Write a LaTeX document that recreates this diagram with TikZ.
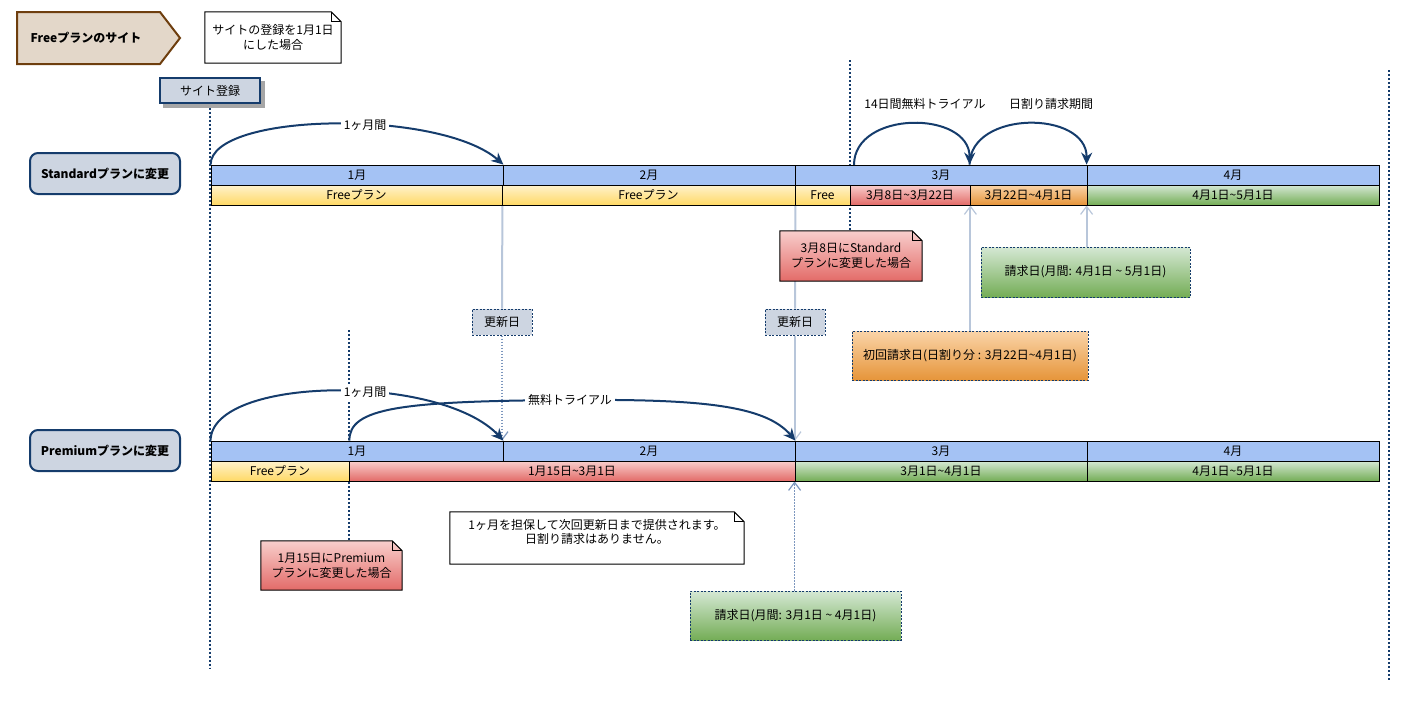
\documentclass[tikz,border=0pt]{standalone}
\usepackage{fontspec}
\setmainfont{Noto Sans CJK JP}
\usetikzlibrary{arrows.meta}
\pgfdeclarelayer{back}
\pgfdeclarelayer{mid}
\pgfsetlayers{back,mid,main}
\definecolor{navy}{HTML}{153C6C}
\definecolor{boxfill}{HTML}{CDD5E1}
\definecolor{monthfill}{HTML}{A4C2F4}
\definecolor{lightln}{HTML}{B8C6DA}
\definecolor{dotln}{HTML}{7D97BE}
\definecolor{beige}{HTML}{E3D7C9}
\definecolor{brownln}{HTML}{6E3E0E}
\definecolor{yelT}{HTML}{FFF2CC}
\definecolor{yelB}{HTML}{FFD966}
\definecolor{redT}{HTML}{F8CECC}
\definecolor{redB}{HTML}{E36B68}
\definecolor{oraT}{HTML}{FAD4A8}
\definecolor{oraB}{HTML}{E6953A}
\definecolor{grnT}{HTML}{D5E8D4}
\definecolor{grnB}{HTML}{74AD56}
\newcommand\drawnote[2]{%
  \begin{pgfonlayer}{mid}
  \draw[line width=1pt,#2] (#1.south west) -- (#1.north west) -- ([xshift=-10pt]#1.north east)
     -- ([yshift=-10pt]#1.north east) -- (#1.south east) -- cycle;
  \draw[line width=0.7pt] ([xshift=-10pt]#1.north east) -- ([xshift=-10pt,yshift=-10pt]#1.north east)
     -- ([yshift=-10pt]#1.north east);
  \end{pgfonlayer}}
\tikzset{
  every node/.style={font=\fontsize{12}{15}\selectfont, inner sep=0pt, align=center},
  month/.style={draw=black, line width=0.8pt, fill=monthfill, minimum height=20pt},
  plany/.style={draw=black, line width=0.8pt, top color=yelT, bottom color=yelB, minimum height=20pt},
  planr/.style={draw=black, line width=0.8pt, top color=redT, bottom color=redB, minimum height=20pt},
  plano/.style={draw=black, line width=0.8pt, top color=oraT, bottom color=oraB, minimum height=20pt},
  plang/.style={draw=black, line width=0.8pt, top color=grnT, bottom color=grnB, minimum height=20pt},
  rowlabel/.style={draw=navy, line width=2pt, fill=boxfill, rounded corners=8pt, minimum width=150pt,
     minimum height=41pt, font=\fontsize{12}{15}\selectfont\bfseries},
  renew/.style={draw=navy, dash pattern=on 2pt off 1.5pt, line width=1pt, fill=boxfill,
     minimum width=60pt, minimum height=26pt},
  billo/.style={draw=navy, dash pattern=on 2pt off 1.5pt, line width=1pt, top color=oraT, bottom color=oraB},
  billg/.style={draw=navy, dash pattern=on 2pt off 1.5pt, line width=1pt, top color=grnT, bottom color=grnB},
  navyarrow/.style={draw=navy, line width=2pt, -{Stealth[length=12pt,width=11pt]}},
  vdot/.style={draw=navy, line width=2pt, dash pattern=on 2pt off 2pt},
  lightl/.style={draw=lightln, line width=2pt},
  dotlight/.style={draw=dotln, line width=1.2pt, dash pattern=on 1.5pt off 1.5pt},
  openarr/.style={-{Straight Barb[length=8pt,width=12pt,line width=1.2pt]}},
  curvelabel/.style={fill=white, inner sep=3pt},
}
\begin{document}
\begin{tikzpicture}[x=1pt,y=-1pt]
\useasboundingbox (0,0) rectangle (1425,715);

% header
\node[font=\fontsize{12}{15}\selectfont\bfseries] (freesite) at (86,38) {Freeプランのサイト};
\begin{pgfonlayer}{mid}
\draw[fill=beige, draw=brownln, line width=2pt] (17,12) -- (160,12) -- (180,38) -- (160,64) -- (17,64) -- cycle;
\end{pgfonlayer}
\node[minimum width=136pt, minimum height=51pt] (n1) at (273,37.5) {サイトの登録を1月1日\\にした場合};
\drawnote{n1}{fill=white}

\node[draw=navy, line width=1.2pt, fill=boxfill, minimum width=100pt, minimum height=25pt] (reg) at (210,90.5) {サイト登録};
\begin{pgfonlayer}{mid}
\fill[black!35] ([xshift=4pt,yshift=-4pt]reg.south west) rectangle ([xshift=4pt,yshift=-4pt]reg.north east);
\end{pgfonlayer}

% row labels
\node[rowlabel] (stdlab) at (105,173.5) {Standardプランに変更};
\node[rowlabel] (prelab) at (105,450.5) {Premiumプランに変更};

% Standard bars
\node[month, minimum width=292pt] (sm1) at (357,175) {1月};
\node[month, minimum width=292pt] (sm2) at (649,175) {2月};
\node[month, minimum width=292pt] (sm3) at (941,175) {3月};
\node[month, minimum width=292pt] (sm4) at (1233,175) {4月};
\node[plany, minimum width=291pt] (sp1) at (356.5,195) {Freeプラン};
\node[plany, minimum width=293pt] (sp2) at (648.5,195) {Freeプラン};
\node[plany, minimum width=55pt] (sp3) at (822.5,195) {Free};
\node[planr, minimum width=120pt] (sp4) at (910,195) {3月8日\textasciitilde3月22日};
\node[plano, minimum width=117pt] (sp5) at (1028.5,195) {3月22日\textasciitilde4月1日};
\node[plang, minimum width=292pt] (sp6) at (1233,195) {4月1日\textasciitilde5月1日};

% Premium bars
\node[month, minimum width=292pt] (pm1) at (357,451) {1月};
\node[month, minimum width=292pt] (pm2) at (649,451) {2月};
\node[month, minimum width=292pt] (pm3) at (941,451) {3月};
\node[month, minimum width=292pt] (pm4) at (1233,451) {4月};
\node[plany, minimum width=138pt] (pp1) at (280,471) {Freeプラン};
\node[planr, minimum width=446pt] (pp2) at (572,471) {1月15日\textasciitilde3月1日};
\node[plang, minimum width=292pt] (pp3) at (941,471) {3月1日\textasciitilde4月1日};
\node[plang, minimum width=292pt] (pp4) at (1233,471) {4月1日\textasciitilde5月1日};

% renewal boxes
\node[renew] (r1) at (502,322) {更新日};
\node[renew] (r2) at (795,322) {更新日};

% billing boxes
\node[billo, minimum width=236pt, minimum height=49pt] (ora) at (970,355.5) {初回請求日(日割り分 : 3月22日\textasciitilde4月1日)};
\node[billg, minimum width=209pt, minimum height=50pt] (g1) at (1085.5,272) {請求日(月間: 4月1日 \textasciitilde{} 5月1日)};
\node[billg, minimum width=211pt, minimum height=49pt] (g2) at (795.5,615.5) {請求日(月間: 3月1日 \textasciitilde{} 4月1日)};

% notes
\node[minimum width=142pt, minimum height=50pt] (nstd) at (851,256) {3月8日にStandard\\プランに変更した場合};
\drawnote{nstd}{top color=redT, bottom color=redB}
\node[minimum width=141pt, minimum height=49pt] (npre) at (331.5,565.5) {1月15日にPremium\\プランに変更した場合};
\drawnote{npre}{top color=redT, bottom color=redB}
\node[minimum width=294pt, minimum height=52pt] (nwhite) at (597,538) {};
\drawnote{nwhite}{fill=white}
\node[font=\fontsize{12}{14}\selectfont] (nwtext) at (597,531.5) {1ヶ月を担保して次回更新日まで提供されます。\\日割り請求はありません。};

% coordinates for free ends
\coordinate (lb) at (210,668);
\coordinate (rt) at (1389,70);
\coordinate (rb) at (1389,680);
\coordinate (vt) at (850,60);
\coordinate (vp) at (349,330);
\coordinate (a14) at (854,165);

% vertical lines
\begin{pgfonlayer}{back}
\draw[vdot] (reg.south) -- (lb);
\draw[vdot] (rt) -- (rb);
\draw[vdot] (vt) -- (vt |- nstd.north);
\draw[vdot] (vp) -- (vp |- npre.north);
\draw[lightl] (sp1.south east) -- (r1.north);
\draw[dotlight, openarr] (r1.south) -- (r1.south |- pm1.north);
\draw[lightl] (sp2.south east) -- (r2.north);
\draw[draw=lightln, line width=1.2pt, openarr] (r2.south) -- (r2.south |- pm2.north);
\draw[lightl, openarr] (sp4.south east |- ora.north) -- (sp4.south east);
\draw[lightl, openarr] (sp6.south west |- g1.north) -- (sp6.south west);
\draw[dotlight, openarr] (pp3.south west |- g2.north) -- (pp3.south west);
\end{pgfonlayer}

% curved arrows
\draw[navyarrow] (sm1.north west) .. controls (211,112) and (440,109) .. (sm1.north east)
   node[curvelabel, pos=0.58] (l1) {1ヶ月間};
\draw[navyarrow] (a14) .. controls (854,110) and (970,110) .. (sp5.north west |- sm3.north);
\draw[navyarrow] (sp5.north west |- sm3.north) .. controls (970,110) and (1087,110) .. (sm4.north west);
\node (l14) at (925,104) {14日間無料トライアル};
\node (lhiwari) at (1051,104) {日割り請求期間};

\draw[navyarrow] (pm1.north west) .. controls (211,376) and (440,373) .. (pm1.north east)
   node[curvelabel, pos=0.58] (l2) {1ヶ月間};
\draw[navyarrow] (pp1.north east |- pm1.north) .. controls (349,408) and (400,401) .. (570,400)
   node[curvelabel] (l3) {無料トライアル}
   .. controls (700,399) and (765,405) .. (pm2.north east);
\end{tikzpicture}
\end{document}
